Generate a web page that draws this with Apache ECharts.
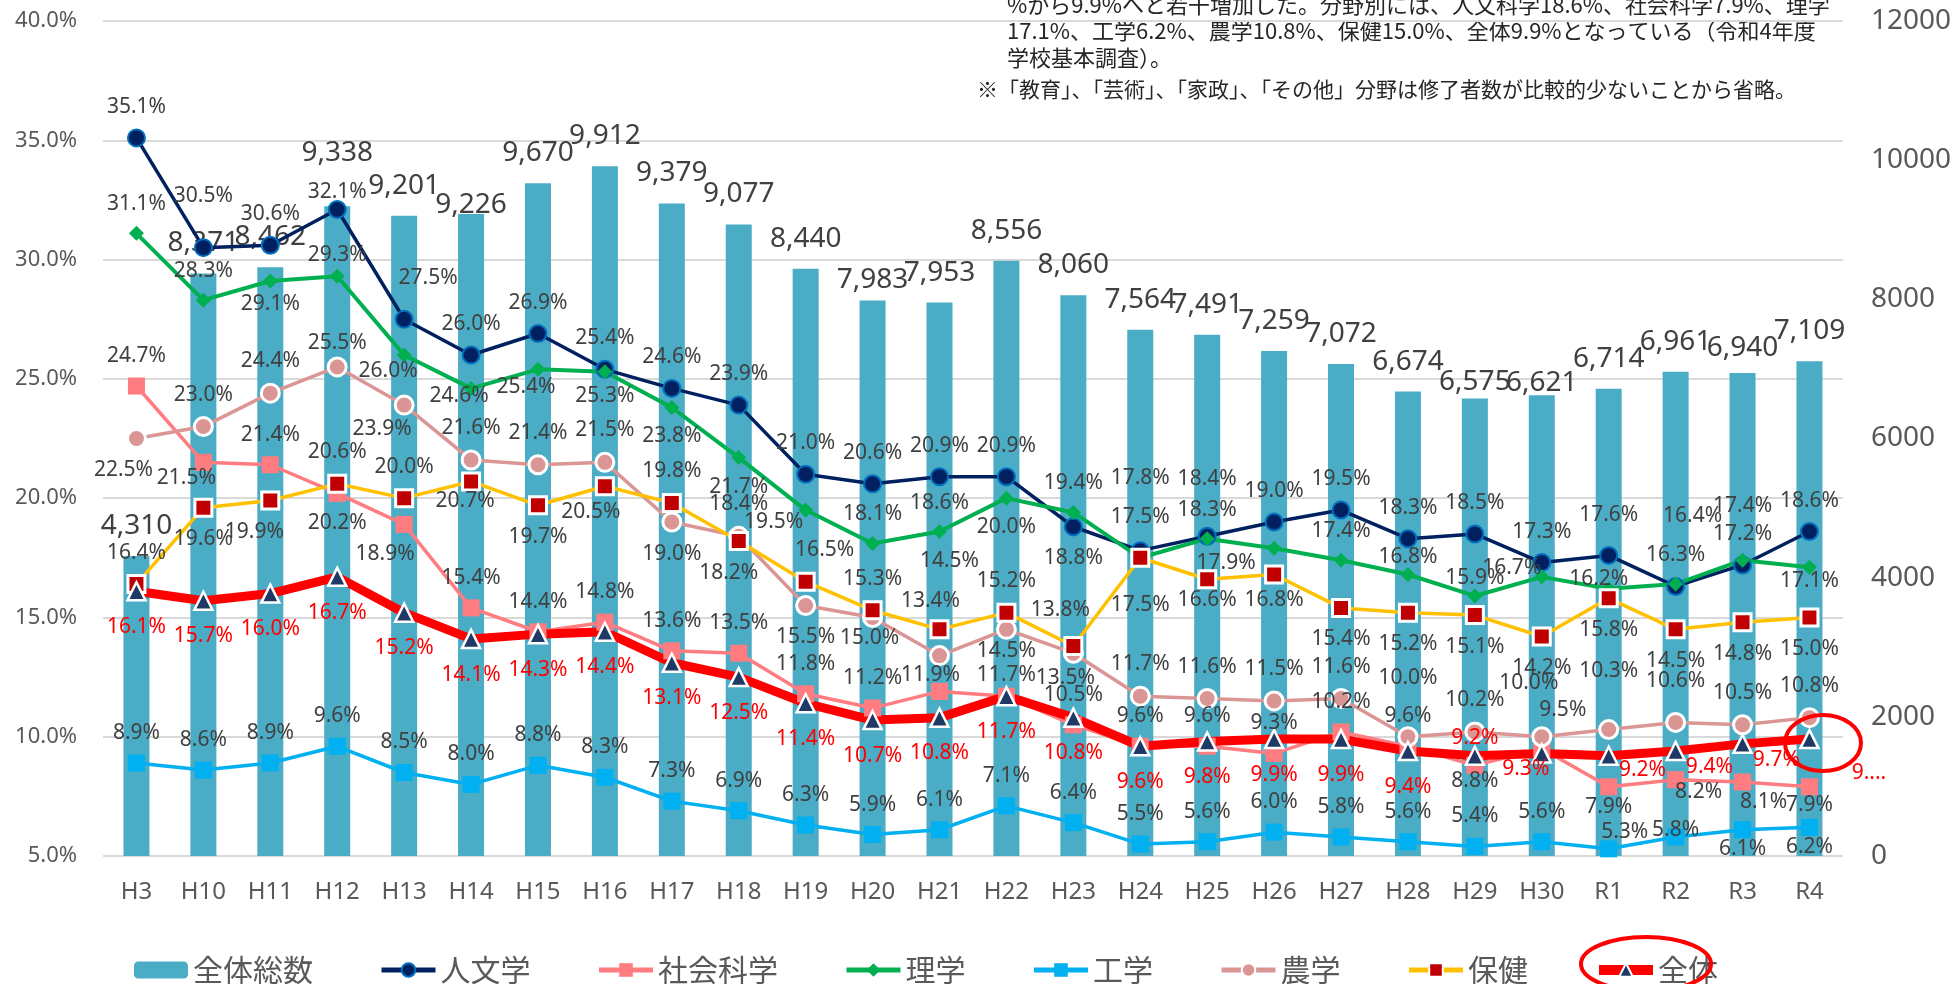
<!DOCTYPE html>
<html>
<head>
<meta charset="utf-8">
<script src="https://cdn.jsdelivr.net/npm/echarts@6/dist/echarts.min.js"></script>
<style>
html, body { margin: 0; padding: 0; background: #fff; }
#chart { width: 1954px; height: 984px; }
</style>
</head>
<body>
<div id="chart"></div>
<script>
// categories (fiscal years)
const years = ['H3', 'H10', 'H11', 'H12', 'H13', 'H14', 'H15', 'H16', 'H17', 'H18', 'H19', 'H20', 'H21',
	'H22', 'H23', 'H24', 'H25', 'H26', 'H27', 'H28', 'H29', 'H30', 'R1', 'R2', 'R3', 'R4'];
// 全体総数 (right axis)
const totalCount = [4310, 8371, 8462, 9338, 9201, 9226, 9670, 9912, 9379, 9077, 8440, 7983, 7953,
	8556, 8060, 7564, 7491, 7259, 7072, 6674, 6575, 6621, 6714, 6961, 6940, 7109];
// ratios in % (left axis)
const jinbun = [35.1, 30.5, 30.6, 32.1, 27.5, 26.0, 26.9, 25.4, 24.6, 23.9, 21.0, 20.6, 20.9,
	20.9, 18.8, 17.8, 18.4, 19.0, 19.5, 18.3, 18.5, 17.3, 17.6, 16.3, 17.2, 18.6];
const shakai = [24.7, 21.5, 21.4, 20.2, 18.9, 15.4, 14.4, 14.8, 13.6, 13.5, 11.8, 11.2, 11.9,
	11.7, 10.5, 9.6, 9.6, 9.3, 10.2, 9.6, 8.8, 9.5, 7.9, 8.2, 8.1, 7.9];
const rigaku = [31.1, 28.3, 29.1, 29.3, 26.0, 24.6, 25.4, 25.3, 23.8, 21.7, 19.5, 18.1, 18.6,
	20.0, 19.4, 17.5, 18.3, 17.9, 17.4, 16.8, 15.9, 16.7, 16.2, 16.4, 17.4, 17.1];
const kougaku = [8.9, 8.6, 8.9, 9.6, 8.5, 8.0, 8.8, 8.3, 7.3, 6.9, 6.3, 5.9, 6.1,
	7.1, 6.4, 5.5, 5.6, 6.0, 5.8, 5.6, 5.4, 5.6, 5.3, 5.8, 6.1, 6.2];
const nougaku = [22.5, 23.0, 24.4, 25.5, 23.9, 21.6, 21.4, 21.5, 19.0, 18.4, 15.5, 15.0, 13.4,
	14.5, 13.5, 11.7, 11.6, 11.5, 11.6, 10.0, 10.2, 10.0, 10.3, 10.6, 10.5, 10.8];
const hoken = [16.4, 19.6, 19.9, 20.6, 20.0, 20.7, 19.7, 20.5, 19.8, 18.2, 16.5, 15.3, 14.5,
	15.2, 13.8, 17.5, 16.6, 16.8, 15.4, 15.2, 15.1, 14.2, 15.8, 14.5, 14.8, 15.0];
const zentai = [16.1, 15.7, 16.0, 16.7, 15.2, 14.1, 14.3, 14.4, 13.1, 12.5, 11.4, 10.7, 10.8,
	11.7, 10.8, 9.6, 9.8, 9.9, 9.9, 9.4, 9.2, 9.3, 9.2, 9.4, 9.7, 9.9];

const FONT = "'Noto Sans', 'Noto Sans CJK JP', sans-serif";
const JP = "'Noto Sans CJK JP', sans-serif";

// where each data label sits (t = top, b = bottom, r = right), one letter per year
const sides = {
	jinbun:  'ttttttttttttttbttttttttttt',
	shakai:  'tbtbbtttttttttttttttbtbbbb',
	rigaku:  'ttbtbbbbbbbttbtttbtttttttb',
	kougaku: 'ttttttttttttttttttttttttbb',
	nougaku: 'btttbtttbtbbtbbttttttttttt',
	hoken:   'tbbttbbbtbtttttbbbbbbbbbbb',
	zentai:  'bbbbbbbbbbbbbbbbbbbbtbrrrr',
};
const posName = { t: 'top', b: 'bottom', l: 'left', r: 'right' };

// hand-moved labels, like in the original workbook: index -> [dx, dy]
const nudges = {
	bar: { 3: [0, -23], 5: [0, 21], 11: [0, 10], 20: [0, 14], 21: [0, 18], 24: [0, 5] },
	jinbun: { 1: [0, -21], 3: [0, 14], 4: [24, -10], 15: [0, -42], 16: [0, -26], 22: [0, -9] },
	rigaku: { 2: [0, -6], 3: [0, 8], 4: [-16, -13], 5: [-12, -21], 6: [-12, -11], 7: [0, -5], 10: [-32, -17],
		15: [0, -12], 17: [-48, -14], 19: [0, 12], 20: [0, 11], 21: [-30, 20], 22: [-10, 19], 23: [17, -39], 24: [0, -25], 25: [0, -15] },
	shakai: { 1: [-17, -14], 4: [-19, 0], 12: [-9, 14], 13: [0, 9], 20: [0, -14], 21: [21, -9], 22: [0, -10], 23: [23, -18], 24: [21, -10], 25: [0, -12] },
	nougaku: { 0: [-13, 0], 3: [0, 8], 4: [-22, -8], 11: [-3, -11], 12: [-9, -23], 13: [0, -10], 14: [-8, -7], 19: [0, -27], 21: [-13, -22], 22: [0, -27], 23: [0, -9] },
	hoken: { 2: [-16, 0], 5: [-6, -12], 7: [-14, -6], 9: [-10, 0], 10: [19, 0], 12: [10, -37], 14: [-13, -5], 15: [0, 16], 16: [0, -11], 17: [0, -6] },
	kougaku: { 22: [16, 13], 23: [0, 23], 24: [0, -11], 25: [0, -10] },
	zentai: { 20: [0, 18], 21: [-16, -20], 22: [-12, 14], 23: [-12, 16], 24: [-12, 16], 25: [20, 34] },
};

const points = (values, key, extra) => values.map((v, i) => {
	const item = { value: v, label: { position: posName[sides[key][i]] } };
	if (nudges[key][i]) {
		item.label.offset = nudges[key][i];
	}
	if (extra && extra[i]) {
		Object.assign(item.label, extra[i]);
	}
	return item;
});

const lineSeries = (name, values, key, o) => ({
	name: name,
	type: 'line',
	yAxisIndex: 0,
	data: points(values, key, o.extra),
	symbol: o.symbol,
	symbolSize: o.size,
	lineStyle: { color: o.line, width: o.width },
	itemStyle: { color: o.fill, borderColor: o.border, borderWidth: o.bw },
	label: {
		show: true,
		distance: o.dist || 11,
		fontSize: 21,
		fontFamily: FONT,
		color: o.labelColor || '#404040',
		formatter: (p) => p.value.toFixed(1) + '%',
	},
	emphasis: { disabled: true },
	animation: false,
});

const legendItem = (name, color, width) => ({ name: name, lineStyle: { color: color, width: width } });

const barData = totalCount.map((v, i) => (nudges.bar[i] ? { value: v, label: { offset: nudges.bar[i] } } : v));

const chart = echarts.init(document.getElementById('chart'));
chart.setOption({
	backgroundColor: '#fff',
	animation: false,
	textStyle: { fontFamily: FONT },
	grid: { left: 103, right: 111, top: 21, bottom: 128 },
	legend: {
		left: 129,
		top: 950,
		itemWidth: 54,
		itemHeight: 17,
		itemGap: 66,
		textStyle: { fontSize: 30, color: '#595959', fontFamily: JP },
		data: [
			{ name: '全体総数' },
			legendItem('人文学', '#002060', 5),
			legendItem('社会科学', '#FF7C80', 5),
			legendItem('理学', '#00B050', 5),
			legendItem('工学', '#00B0F0', 5),
			legendItem('農学', '#DA9694', 5),
			legendItem('保健', '#FFC000', 5),
			legendItem('全体', '#FF0000', 10),
		],
	},
	xAxis: {
		type: 'category',
		data: years,
		axisLine: { show: false },
		axisTick: { show: false },
		axisLabel: { fontSize: 24, color: '#595959', margin: 24 },
	},
	yAxis: [{
		type: 'value',
		min: 5,
		max: 40,
		interval: 5,
		axisLabel: { fontSize: 22, color: '#595959', margin: 26, formatter: (v) => v.toFixed(1) + '%' },
		splitLine: { lineStyle: { color: '#D9D9D9', width: 2 } },
	}, {
		type: 'value',
		min: 0,
		max: 12000,
		interval: 2000,
		position: 'right',
		axisLabel: { fontSize: 28, color: '#595959', margin: 28, formatter: (v) => String(v) },
		splitLine: { show: false },
	}],
	series: [{
		name: '全体総数',
		type: 'bar',
		yAxisIndex: 1,
		data: barData,
		barWidth: 26,
		itemStyle: { color: '#4BACC6' },
		label: {
			show: true,
			position: 'top',
			distance: 16,
			fontSize: 28,
			fontFamily: FONT,
			color: '#404040',
			formatter: (p) => String(p.value).replace(/(\d)(\d{3})$/, '$1,$2'),
		},
		emphasis: { disabled: true },
	},
	lineSeries('人文学', jinbun, 'jinbun', { symbol: 'circle', size: 17, line: '#002060', width: 3.5, fill: '#002060', border: '#0070C0', bw: 2 }),
	lineSeries('社会科学', shakai, 'shakai', { symbol: 'rect', size: 17, line: '#FF7C80', width: 3.5, fill: '#FF7C80', border: '#FF7C80', bw: 0 }),
	lineSeries('理学', rigaku, 'rigaku', { symbol: 'diamond', size: 15, line: '#00B050', width: 4, fill: '#00B050', border: '#00B050', bw: 0 }),
	lineSeries('工学', kougaku, 'kougaku', { symbol: 'rect', size: 17, line: '#00B0F0', width: 3.5, fill: '#00B0F0', border: '#00B0F0', bw: 0 }),
	lineSeries('農学', nougaku, 'nougaku', { symbol: 'circle', size: 18, line: '#DA9694', width: 3.5, fill: '#DA9694', border: '#fff', bw: 3 }),
	lineSeries('保健', hoken, 'hoken', { symbol: 'rect', size: 17, line: '#FFC000', width: 3.5, fill: '#C00000', border: '#fff', bw: 3 }),
	lineSeries('全体', zentai, 'zentai', {
		symbol: 'triangle', size: 18, line: '#FF0000', width: 9, fill: '#1F3864', border: '#fff', bw: 2.5, labelColor: '#FF0000', dist: 15,
		extra: {
			22: { distance: 12 },
			23: { distance: 12 },
			24: { distance: 12 },
			25: { distance: 12, formatter: '9....' },
		},
	}),
	],
	graphic: [
		{ type: 'text', x: 1007, y: 5, style: { text: '%から9.9%へと若干増加した。分野別には、人文科学18.6%、社会科学7.9%、理学', font: '22px ' + JP, fill: '#262626', verticalAlign: 'middle' } },
		{ type: 'text', x: 1007, y: 31, style: { text: '17.1%、工学6.2%、農学10.8%、保健15.0%、全体9.9%となっている（令和4年度', font: '22px ' + JP, fill: '#262626', verticalAlign: 'middle' } },
		{ type: 'text', x: 1007, y: 58, style: { text: '学校基本調査）。', font: '22px ' + JP, fill: '#262626', verticalAlign: 'middle' } },
		{ type: 'text', x: 977, y: 89, style: { text: '※「教育」、「芸術」、「家政」、「その他」分野は修了者数が比較的少ないことから省略。', font: '21px ' + JP, fill: '#262626', verticalAlign: 'middle' } },
		{ type: 'ellipse', z: 100, shape: { cx: 1823, cy: 743, rx: 38, ry: 28 }, style: { fill: 'none', stroke: '#FF0000', lineWidth: 4 } },
		{ type: 'ellipse', z: 100, shape: { cx: 1646, cy: 964, rx: 65, ry: 27 }, style: { fill: 'none', stroke: '#FF0000', lineWidth: 4 } },
	],
});
</script>
</body>
</html>
